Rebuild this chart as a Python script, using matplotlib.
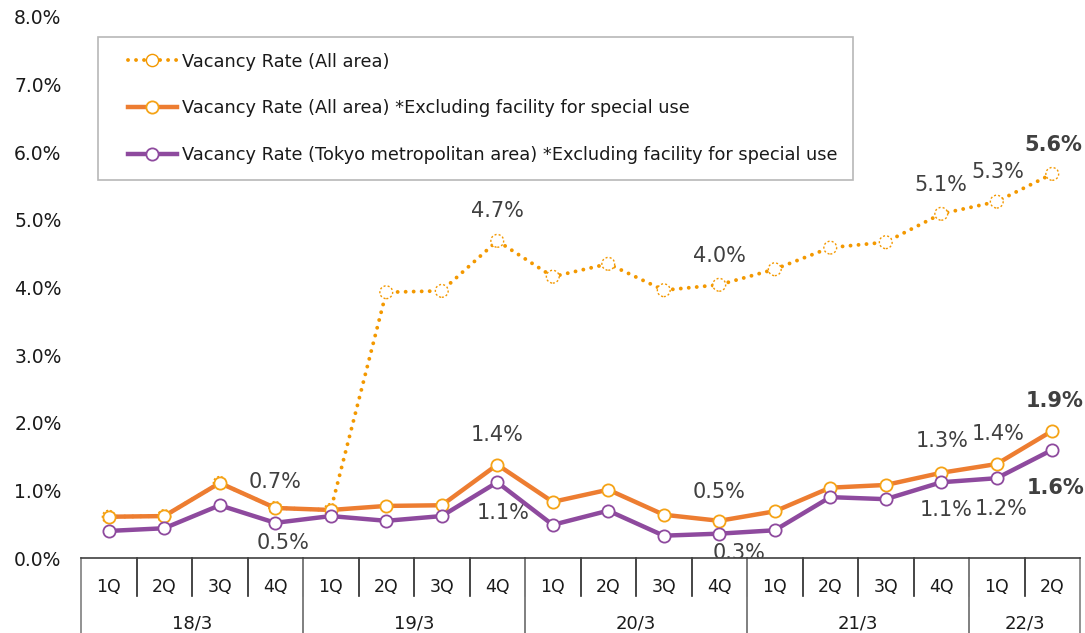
import matplotlib.pyplot as plt
from matplotlib.lines import Line2D
from matplotlib.legend_handler import HandlerTuple

# data (vacancy rate, %)
quarters = ["1Q", "2Q", "3Q", "4Q", "1Q", "2Q", "3Q", "4Q", "1Q", "2Q", "3Q", "4Q",
            "1Q", "2Q", "3Q", "4Q", "1Q", "2Q"]
years = ["18/3", "19/3", "20/3", "21/3", "22/3"]
year_sizes = [4, 4, 4, 4, 2]

all_area = [0.61, 0.62, 1.11, 0.74, 0.71, 3.93, 3.95, 4.69, 4.16, 4.35, 3.96, 4.04,
            4.27, 4.59, 4.67, 5.09, 5.27, 5.68]
all_area_ex = [0.61, 0.62, 1.11, 0.74, 0.71, 0.77, 0.78, 1.38, 0.83, 1.01, 0.64, 0.55,
               0.69, 1.04, 1.08, 1.26, 1.39, 1.88]
tokyo_ex = [0.40, 0.44, 0.78, 0.52, 0.62, 0.55, 0.62, 1.12, 0.49, 0.70, 0.33, 0.36,
            0.41, 0.90, 0.87, 1.12, 1.18, 1.60]

names = ["Vacancy Rate (All area)",
         "Vacancy Rate (All area) *Excluding facility for special use",
         "Vacancy Rate (Tokyo metropolitan area) *Excluding facility for special use"]

# labels: (series, index, text, dx px, dy px, bold)
labels = [
    (1, 3, "0.7%", 0, -26, False), (2, 3, "0.5%", 8, 20, False),
    (1, 7, "1.4%", 0, -30, False), (2, 7, "1.1%", 6, 31, False),
    (0, 7, "4.7%", 0, -30, False),
    (1, 11, "0.5%", 0, -29, False), (2, 11, "0.3%", 20, 19, False),
    (0, 11, "4.0%", 0, -29, False),
    (0, 15, "5.1%", 0, -29, False), (0, 16, "5.3%", 1, -30, False),
    (0, 17, "5.6%", 1, -29, True),
    (1, 15, "1.3%", 1, -32, False), (1, 16, "1.4%", 1, -30, False),
    (1, 17, "1.9%", 2, -30, True),
    (2, 15, "1.1%", 5, 28, False), (2, 16, "1.2%", 4, 31, False),
    (2, 17, "1.6%", 3, 38, True),
]

c_dot = "#F39800"
c_org = "#ED7D31"
c_org_edge = "#F5A316"
c_pur = "#8E4A9E"
c_txt = "#404040"

W, H = 1085, 633
fig = plt.figure(figsize=(W / 100, H / 100), dpi=100)
ax = fig.add_axes([81 / W, 1 - 558 / H, 999 / W, 541 / H])

x = list(range(len(quarters)))
dot_style = dict(color=c_dot, lw=2.8, linestyle=(0, (0.01, 2.05)), dash_capstyle="round")
ax.plot(x, all_area, zorder=2, **dot_style)
ax.scatter(x, all_area, s=85, facecolors="white", edgecolors=c_dot,
           linewidths=1.0, linestyle=(0, (1.5, 1.5)), zorder=3)
mk = dict(marker="o", markersize=8.8, markerfacecolor="white", markeredgewidth=1.3)
org_line, = ax.plot(x, all_area_ex, color=c_org, lw=3.2, markeredgecolor=c_org_edge,
                    zorder=4, **mk)
pur_line, = ax.plot(x, tokyo_ex, color=c_pur, lw=3.2, markeredgecolor=c_pur,
                    zorder=5, **mk)

series = [all_area, all_area_ex, tokyo_ex]
for s, i, t, dx, dy, bold in labels:
    ax.annotate(t, (i, series[s][i]), xytext=(dx * 0.72, -dy * 0.72),
                textcoords="offset points", ha="center", va="center",
                fontsize=15, color=c_txt, fontweight="bold" if bold else "normal",
                annotation_clip=False, zorder=1)

ax.set_xlim(-0.5, len(quarters) - 0.5)
ax.set_ylim(0, 8)
ax.set_yticks(range(0, 9))
ax.set_yticklabels([f"{v:.1f}%" for v in range(0, 9)], fontsize=13.5, color="#1a1a1a")
ax.tick_params(axis="y", length=0, pad=14)
ax.set_xticks([])
for side in ["top", "right", "left"]:
    ax.spines[side].set_visible(False)
ax.spines["bottom"].set_color("#404040")
ax.spines["bottom"].set_linewidth(1.2)
ax.spines["bottom"].set_zorder(10)

# white strip just below the axis line (0.3% label is cut there in the original)
ax.axhspan(-0.15, 0, color="white", zorder=1.5, clip_on=False)

# two-level category axis
trans = ax.get_xaxis_transform()
q_bot = -(596 - 558) / 541
y_bot = -(633 - 558) / 541
for i, q in enumerate(quarters):
    ax.text(i, -(587 - 558) / 541, q, transform=trans, ha="center", va="center",
            fontsize=12.5, color="#1a1a1a")
for i in range(1, len(quarters)):
    ax.plot([i - 0.5, i - 0.5], [0, q_bot], transform=trans, color="#262626",
            lw=1.2, clip_on=False)
start = 0
for yr, n in zip(years, year_sizes):
    ax.text(start + n / 2 - 0.5, -(623 - 558) / 541, yr, transform=trans,
            ha="center", va="center", fontsize=13, color="#1a1a1a")
    for b in (start - 0.5, start + n - 0.5):
        ax.plot([b, b], [0, y_bot], transform=trans, color="#7f7f7f", lw=1.2,
                clip_on=False)
    start += n

dot_handle = Line2D([], [], markeredgecolor=c_dot, markeredgewidth=1.0, **dot_style,
                    **{k: v for k, v in mk.items() if k != "markeredgewidth"})
leg = ax.legend(handles=[(dot_handle,), (org_line,), (pur_line,)], labels=names,
                handler_map={tuple: HandlerTuple(ndivide=None, xpad=0.81)},
                loc="upper left", bbox_to_anchor=(17 / 999, 521 / 541),
                borderaxespad=0, fontsize=12.8, frameon=True, fancybox=False,
                edgecolor="#a6a6a6", borderpad=0.88, handlelength=3.56,
                handletextpad=0.28, labelspacing=1.62)
leg.get_frame().set_linewidth(1.2)
leg.set_zorder(12)
for t in leg.get_texts():
    t.set_color("#1a1a1a")

fig.savefig("out.png", dpi=100)
